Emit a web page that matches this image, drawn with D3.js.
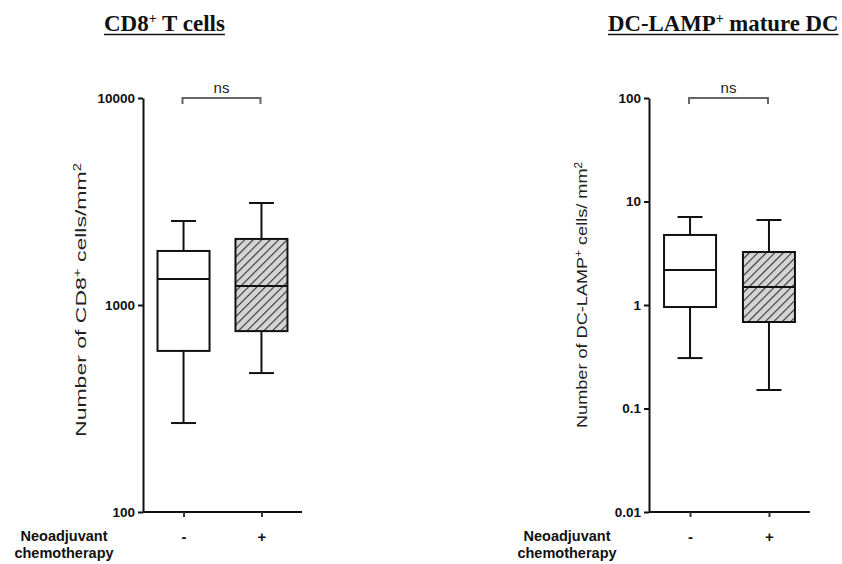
<!DOCTYPE html>
<html>
<head>
<meta charset="utf-8">
<script src="https://cdn.jsdelivr.net/npm/d3@7"></script>
<style>
  body { margin: 0; background: #fff; }
  svg text { font-family: "Liberation Sans", Arial, sans-serif; }
</style>
</head>
<body>
<div id="chart"></div>
<script>
// groups on the x axis
const groups = ['-', '+']

// CD8+ T cells per mm2: [min, q1, median, q3, max]
const cd8NoChemo = [269, 600, 1335, 1824, 2546]
const cd8Chemo = [469, 748, 1235, 2085, 3110]

// DC-LAMP+ cells per mm2: [min, q1, median, q3, max]
const dcNoChemo = [0.307, 0.956, 2.18, 4.75, 7.08]
const dcChemo = [0.151, 0.685, 1.49, 3.25, 6.63]

const cd8Ticks = [100, 1000, 10000]
const dcTicks = [0.01, 0.1, 1, 10, 100]

const W = 842, H = 564
const svg = d3.select('#chart').append('svg').attr('width', W).attr('height', H)

const defs = svg.append('defs')
const pat = defs.append('pattern')
  .attr('id', 'hatch')
  .attr('patternUnits', 'userSpaceOnUse')
  .attr('width', 6).attr('height', 6)
  .attr('patternTransform', 'rotate(45)')
pat.append('rect').attr('width', 6).attr('height', 6).attr('fill', '#d4d4d4')
pat.append('line').attr('x1', 0).attr('y1', 0).attr('x2', 0).attr('y2', 6)
  .attr('stroke', '#333').attr('stroke-width', 2.2)

function panel(cfg) {
  const g = svg.append('g')
  const y = d3.scaleLog().domain(cfg.domain).range([512, 98])
  const x = d3.scalePoint().domain(groups).range([cfg.x0, cfg.x1]).padding(0.52)

  // title
  const title = g.append('text')
    .attr('x', cfg.titleX).attr('y', 31)
    .style('font-family', '"Liberation Serif", "Times New Roman", serif')
    .style('font-weight', 'bold').style('font-size', cfg.titleSize + 'px').attr('fill', '#111')
  title.append('tspan').text(cfg.title[0])
  title.append('tspan').attr('baseline-shift', '55%').style('font-size', '14px').text('+')
  title.append('tspan').text(cfg.title[1])
  const tw = title.node().getComputedTextLength()
  g.append('line')
    .attr('x1', cfg.titleX).attr('x2', cfg.titleX + tw)
    .attr('y1', 34.5).attr('y2', 34.5)
    .attr('stroke', '#111').attr('stroke-width', 1.5)

  // y axis
  const yAxis = g.append('g')
    .attr('transform', `translate(${cfg.x0},0)`)
    .call(d3.axisLeft(y).tickValues(cfg.ticks).tickFormat(d => String(d)).tickSize(5).tickSizeOuter(0))
  yAxis.select('.domain').attr('stroke', '#111').attr('stroke-width', 2)
  yAxis.selectAll('.tick line').attr('stroke', '#111').attr('stroke-width', 2)
  yAxis.selectAll('.tick text')
    .attr('x', -8)
    .style('font-size', '13.5px').style('font-weight', 'bold').attr('fill', '#111')

  // x axis
  const xAxis = g.append('g')
    .attr('transform', 'translate(0,512)')
    .call(d3.axisBottom(x).tickSize(5).tickSizeOuter(0))
  xAxis.select('.domain').attr('stroke', '#111').attr('stroke-width', 2)
    .attr('d', `M${cfg.x0},0H${cfg.x1}`)
  xAxis.selectAll('.tick line').attr('stroke', '#333').attr('stroke-width', 2)
  xAxis.selectAll('.tick text')
    .attr('y', 30).attr('dy', 0)
    .style('font-size', '15px').style('font-weight', 'bold').attr('fill', '#111')

  // y label
  const yl = g.append('text')
    .attr('transform', `translate(${cfg.labelX},${cfg.labelY}) rotate(-90)`)
    .attr('text-anchor', 'middle')
    .attr('textLength', cfg.labelLen).attr('lengthAdjust', 'spacingAndGlyphs')
    .style('font-size', '15.5px').attr('fill', '#222')
  yl.append('tspan').text(cfg.ylabel[0])
  yl.append('tspan').attr('baseline-shift', '55%').style('font-size', '10px').text(cfg.ylabel[1])
  yl.append('tspan').text(cfg.ylabel[2])
  yl.append('tspan').attr('baseline-shift', '55%').style('font-size', '10px').text('2')

  // group caption
  const cap = g.append('text')
    .attr('text-anchor', 'middle')
    .style('font-size', '14.5px').style('font-weight', 'bold').attr('fill', '#111')
  cap.append('tspan').attr('x', cfg.capX).attr('y', 541).text('Neoadjuvant')
  cap.append('tspan').attr('x', cfg.capX).attr('y', 558).text('chemotherapy')

  // boxes
  const boxW = 52, capW = 25
  const boxes = g.selectAll('g.box')
    .data([{ k: '-', v: cfg.data[0], fill: '#fff' }, { k: '+', v: cfg.data[1], fill: 'url(#hatch)' }])
    .join('g').attr('class', 'box')
  boxes.each(function (d) {
    const b = d3.select(this)
    const cx = x(d.k)
    const [mn, q1, md, q3, mx] = d.v
    b.append('line').attr('x1', cx).attr('x2', cx).attr('y1', y(mx)).attr('y2', y(q3))
    b.append('line').attr('x1', cx).attr('x2', cx).attr('y1', y(q1)).attr('y2', y(mn))
    b.append('line').attr('x1', cx - capW / 2).attr('x2', cx + capW / 2).attr('y1', y(mx)).attr('y2', y(mx))
    b.append('line').attr('x1', cx - capW / 2).attr('x2', cx + capW / 2).attr('y1', y(mn)).attr('y2', y(mn))
    b.append('rect')
      .attr('x', cx - boxW / 2).attr('width', boxW)
      .attr('y', y(q3)).attr('height', y(q1) - y(q3))
      .attr('fill', d.fill)
    b.append('line').attr('x1', cx - boxW / 2).attr('x2', cx + boxW / 2).attr('y1', y(md)).attr('y2', y(md))
    b.selectAll('line, rect').attr('stroke', '#111').attr('stroke-width', 2)
  })

  // significance bracket
  const top = y(cfg.domain[1])
  const xa = x('-') - 1, xb = x('+') - 1
  g.append('path')
    .attr('d', `M${xa},${top + 6}V${top}H${xb}V${top + 6}`)
    .attr('fill', 'none').attr('stroke', '#666').attr('stroke-width', 2)
  g.append('text')
    .attr('x', (xa + xb) / 2).attr('y', top - 5)
    .attr('text-anchor', 'middle')
    .style('font-size', '15px').attr('fill', '#222')
    .text('ns')
}

panel({
  domain: [100, 10000], ticks: cd8Ticks, x0: 143, x1: 302,
  data: [cd8NoChemo, cd8Chemo],
  title: ['CD8', ' T cells'], titleX: 104, titleSize: 23,
  ylabel: ['Number of CD8', '+', ' cells/mm'],
  labelX: 86, labelY: 300, labelLen: 274, capX: 64
})

panel({
  domain: [0.01, 100], ticks: dcTicks, x0: 649, x1: 810,
  data: [dcNoChemo, dcChemo],
  title: ['DC-LAMP', ' mature DC'], titleX: 608, titleSize: 22.8,
  ylabel: ['Number of DC-LAMP', '+', ' cells/ mm'],
  labelX: 587, labelY: 295, labelLen: 266, capX: 567
})
</script>
</body>
</html>
